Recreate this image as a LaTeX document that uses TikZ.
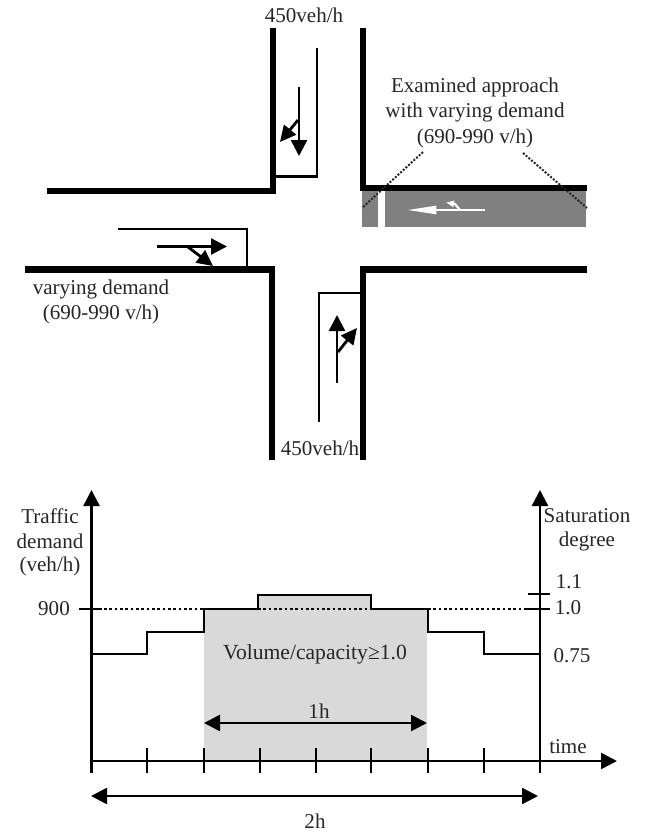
\documentclass[tikz,border=0pt]{standalone}
\usepackage{fontspec}
\setmainfont{Liberation Serif}
\usetikzlibrary{arrows.meta}
\tikzset{
  road/.style={line width=4.8pt,line cap=butt,line join=miter,draw=black},
  lane/.style={line width=1.9pt,line join=miter,draw=black},
  flow/.style={line width=1.9pt,draw=black,-{Triangle[length=12pt,width=12pt]}},
  turnflow/.style={line width=2.1pt,draw=black,-{Triangle[length=12pt,width=11.5pt]}},
  axisline/.style={line width=1.9pt,draw=black,-{Triangle[length=12pt,width=12pt]}},
  spanline/.style={line width=1.9pt,draw=black,{Triangle[length=12pt,width=12pt]}-{Triangle[length=12pt,width=12pt]}},
  tickmark/.style={line width=1.6pt,draw=black},
  dots/.style={line width=1.9pt,draw=black,dash pattern=on 2pt off 2pt},
  thindots/.style={line width=1.5pt,draw=black!85,dash pattern=on 1.5pt off 1.2pt},
  lab/.style={inner sep=0pt,text=black!85,font=\fontsize{15.8pt}{18pt}\selectfont,align=center}
}
\begin{document}
\begin{tikzpicture}[x=0.75pt,y=-0.75pt]
\useasboundingbox (0,0) rectangle (658,833);
% examined approach shading
\fill[black!50] (362,191) rectangle (378,227);
\fill[black!50] (385,191) rectangle (586,227);
% road edges
\draw[road] (273,28) -- (273,191) -- (47,191);
\draw[road] (363,28) -- (363,188) -- (587,188);
\draw[road] (25,269.5) -- (272,269.5) -- (272,460);
\draw[road] (363,460) -- (363,269.5) -- (587,269.5);
% lanes
\draw[lane] (317,48) -- (317,176.5) -- (275,176.5);
\draw[lane] (118,229) -- (247,229) -- (247,268);
\draw[lane] (319,422) -- (319,293) -- (361,293);
% movement arrows
\coordinate (sS) at (299,87); \coordinate (sE) at (299,156);
\coordinate (sB) at (298,120); \coordinate (sT) at (280,142);
\draw[flow] (sS) -- (sE);
\draw[turnflow] (sB) -- (sT);
\coordinate (wS) at (157,246.5); \coordinate (wE) at (227,246.5);
\coordinate (wB) at (188,247); \coordinate (wT) at (213,266);
\draw[flow] (wS) -- (wE);
\draw[turnflow] (wB) -- (wT);
\coordinate (nS) at (337,383); \coordinate (nE) at (337,315);
\coordinate (nB) at (338,352); \coordinate (nT) at (357,328);
\draw[flow] (nS) -- (nE);
\draw[turnflow] (nB) -- (nT);
% white arrow
\coordinate (eS) at (485,210); \coordinate (eE) at (407,210);
\draw[line width=1.9pt,draw=white,-{Triangle[length=22pt,width=6pt,fill=white]}] (eS) -- (eE);
\draw[line width=1.6pt,draw=white,-{Triangle[length=6pt,width=4.5pt,fill=white]}] (460,210) -- (455,204) -- (446,202.5);
% dotted leaders
\coordinate (ll) at (423,152); \coordinate (lr) at (362,208);
\coordinate (rl) at (523,153); \coordinate (rr) at (587,208);
\draw[thindots] (ll) -- (lr);
\draw[thindots] (rl) -- (rr);
% labels: intersection
\node[lab] (t1) at (304,15) {450veh/h};
\node[lab] (t2) at (320,448) {450veh/h};
\node[lab] (t3) at (475,87.5) {Examined approach};
\node[lab] (t4) at (475,112.5) {with varying demand};
\node[lab] (t5) at (475,138) {(690-990 v/h)};
\node[lab] (t6) at (101,289.5) {varying demand};
\node[lab] (t7) at (101,314) {(690-990 v/h)};
% chart
\fill[black!15] (204,609) rectangle (427,761);
\fill[black!15] (258,595) rectangle (371,609);
\draw[dots] (104,609) -- (204,609);
\draw[dots] (258,609) -- (371,609);
\draw[dots] (428,609) -- (527,609);
\draw[lane] (91.5,654) -- (147,654) -- (147,632) -- (204,632) -- (204,609) -- (258,609) -- (258,595) -- (371,595) -- (371,609) -- (428,609) -- (428,632) -- (484,632) -- (484,654) -- (540,654);
\coordinate (o) at (91.5,773); \coordinate (oT) at (91.5,490);
\coordinate (xS) at (91,761); \coordinate (xE) at (617,761);
\coordinate (rS) at (540,773); \coordinate (rT) at (540,490);
\draw[axisline] (o) -- (oT);
\draw[axisline] (rS) -- (rT);
\draw[axisline] (xS) -- (xE);
\foreach \x in {147,204,260,316,371,428,484} \draw[tickmark] (\x,748) -- (\x,773);
\draw[tickmark] (79,609) -- (102,609);
\draw[tickmark] (527,609) -- (550,609);
\draw[tickmark] (528,594) -- (550,594);
\coordinate (hL) at (204,723); \coordinate (hR) at (427,723);
\draw[spanline] (hL) -- (hR);
\coordinate (dL) at (91,796); \coordinate (dR) at (538,796);
\draw[spanline] (dL) -- (dR);
% labels: chart
\node[lab] (c1) at (50,516) {Traffic};
\node[lab] (c2) at (50,541) {demand};
\node[lab] (c3) at (50,566) {(veh/h)};
\node[lab] (c4) at (54,609) {900};
\node[lab] (c5) at (587,516) {Saturation};
\node[lab] (c6) at (587,541) {degree};
\node[lab] (c7) at (569,582) {1.1};
\node[lab] (c8) at (568,608) {1.0};
\node[lab] (c9) at (572,656) {0.75};
\node[lab] (c10) at (568,747) {time};
\node[lab,font=\fontsize{16.2pt}{18pt}\selectfont] (c11) at (315,654) {Volume/capacity≥1.0};
\node[lab] (c12) at (319,711) {1h};
\node[lab] (c13) at (315,821) {2h};
\end{tikzpicture}
\end{document}
